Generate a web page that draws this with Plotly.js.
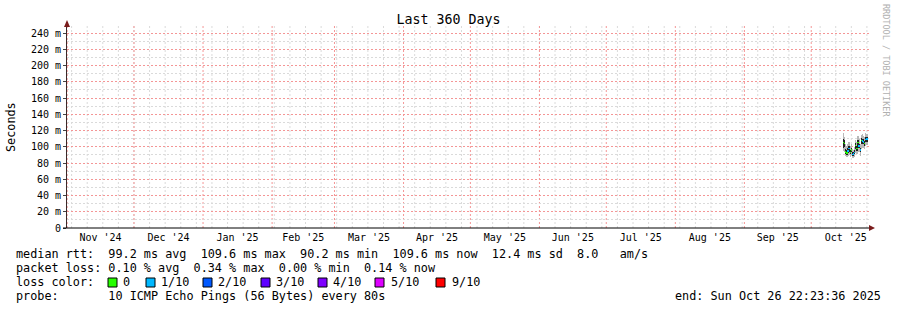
<!DOCTYPE html>
<html><head><meta charset="utf-8">
<script src="https://cdn.plot.ly/plotly-3.0.1.min.js"></script>
<style>html,body{margin:0;padding:0;background:#fff;} #chart{width:897px;height:310px;}</style>
</head><body><div id="chart"></div>
<script>
// ---- data ----
const times = ['2025-10-15 12:00','2025-10-16 00:00','2025-10-16 12:00','2025-10-17 00:00','2025-10-17 12:00','2025-10-18 00:00','2025-10-18 12:00','2025-10-19 00:00','2025-10-19 12:00','2025-10-20 00:00','2025-10-20 12:00','2025-10-21 00:00','2025-10-21 12:00','2025-10-22 00:00','2025-10-22 12:00','2025-10-23 00:00','2025-10-23 12:00','2025-10-24 00:00','2025-10-24 12:00','2025-10-25 00:00','2025-10-25 12:00','2025-10-26 00:00'];
const medianMs = [105, 104, 93.5, 92.5, 95, 98, 93, 96, 90.2, 91, 93, 102, 98, 105, 101, 96, 108, 107, 106, 104, 109, 109.6];
const lossIdx  = [0, 0, 0, 0, 1, 1, 0, 0, 1, 1, 1, 0, 0, 0, 1, 1, 0, 1, 1, 0, 1, 1];
const smokeMinMs = [95, 94, 89, 88, 89, 90, 88, 90, 86, 86, 88, 92, 91, 95, 93, 89, 97, 98, 99, 97, 101, 102];
const smokeMaxMs = [117, 112, 104, 101, 103, 106, 101, 104, 97, 96, 100, 108, 106, 113, 109, 103, 115, 116, 113, 112, 117, 116];
const innerLoMs  = [99, 100, 91, 90, 92, 94, 91, 93, 89, 89, 91, 97, 95, 101, 98, 93, 103, 104, 103, 101, 106, 106];
const innerHiMs  = [110, 108, 97, 96, 98, 101, 96, 99, 93, 93, 96, 105, 101, 108, 104, 99, 111, 110, 109, 107, 112, 112];

const lossLabels = ['0', '1/10', '2/10', '3/10', '4/10', '5/10', '9/10'];
const lossColors = ['#26ff00', '#00b8ff', '#0059ff', '#5e00ff', '#7e00ff', '#dd00ff', '#ff0000'];

const monthLabels = ["Nov '24", "Dec '24", "Jan '25", "Feb '25", "Mar '25", "Apr '25", "May '25", "Jun '25", "Jul '25", "Aug '25", "Sep '25", "Oct '25"];
const yTickVals = [0, 0.02, 0.04, 0.06, 0.08, 0.10, 0.12, 0.14, 0.16, 0.18, 0.20, 0.22, 0.24];
const yTickText = ['0', '20 m', '40 m', '60 m', '80 m', '100 m', '120 m', '140 m', '160 m', '180 m', '200 m', '220 m', '240 m'];
const yMinorVals = [0.01, 0.03, 0.05, 0.07, 0.09, 0.11, 0.13, 0.15, 0.17, 0.19, 0.21, 0.23, 0.25];

const titleText = 'Last 360 Days';
const legendLines = [
  'median rtt:  99.2 ms avg  109.6 ms max  90.2 ms min  109.6 ms now  12.4 ms sd  8.0   am/s',
  'packet loss: 0.10 % avg  0.34 % max  0.00 % min  0.14 % now',
  'loss color:',
  'probe:       10 ICMP Echo Pings (56 Bytes) every 80s'
];
const endText = 'end: Sun Oct 26 22:23:36 2025';
const sideText = 'RRDTOOL / TOBI OETIKER';
const xStart = '2024-10-31 22:23:36', xEnd = '2025-10-26 22:23:36';

// ---- geometry helpers ----
const W = 897, H = 310, PL = 67, PR = 869, PT = 25, PB = 228;
const fx = p => (p - PL) / (PR - PL);
const fy = p => (PB - p) / (PB - PT);
const MONO = 'DejaVu Sans Mono, monospace';
const nb = s => s.replace(/ /g, '\u00a0');
const toS = v => v / 1000;

const monthStarts = [];
for (let i = 0; i <= 12; i++) monthStarts.push(Date.UTC(2024, 10 + i, 1));
const midMonths = [];
for (let i = 0; i < 12; i++) midMonths.push((monthStarts[i] + monthStarts[i + 1]) / 2);
const xs = Date.UTC(2024, 9, 31, 22, 23, 36), xe = Date.UTC(2025, 9, 26, 22, 23, 36);
const weekLines = [];
for (let t = Date.UTC(2024, 10, 3); t < xe; t += 7 * 86400000) weekLines.push(t);

const MINOR = 'rgb(218,218,218)', MAJOR = 'rgb(244,150,150)', DASH = '2px,2px';
const shapes = [];
weekLines.forEach(t => shapes.push({type: 'line', xref: 'x', yref: 'paper', x0: t, x1: t, y0: 0, y1: 1, layer: 'below', line: {color: MINOR, width: 1, dash: DASH}}));
monthStarts.filter(t => t > xs && t < xe).forEach(t => shapes.push({type: 'line', xref: 'x', yref: 'paper', x0: t, x1: t, y0: 0, y1: 1, layer: 'between', line: {color: MAJOR, width: 1, dash: DASH}}));
shapes.push({type: 'line', xref: 'paper', yref: 'paper', x0: fx(63), x1: fx(869), y0: fy(228), y1: fy(228), line: {color: '#000', width: 1}});
shapes.push({type: 'path', xref: 'paper', yref: 'paper', path: `M ${fx(869)} ${fy(225)} L ${fx(875)} ${fy(228)} L ${fx(869)} ${fy(231)} Z`, fillcolor: '#7a1c1c', line: {width: 0}});
shapes.push({type: 'path', xref: 'paper', yref: 'paper', path: `M ${fx(64)} ${fy(27)} L ${fx(67)} ${fy(20)} L ${fx(70)} ${fy(27)} Z`, fillcolor: '#7a1c1c', line: {width: 0}});
const boxX = [108, 146, 203, 261, 318, 375, 436];
const boxTextX = [123, 161, 218, 276, 333, 391, 452];
lossColors.forEach((c, i) => shapes.push({type: 'rect', xref: 'paper', yref: 'paper', x0: fx(boxX[i]), x1: fx(boxX[i] + 9), y0: fy(278), y1: fy(287), fillcolor: c, line: {color: '#000', width: 1}}));

const ann = [];
const legendY = [254, 268, 282, 296];
const baseAnn = {xref: 'paper', yref: 'paper', showarrow: false, borderpad: 0, borderwidth: 0, yanchor: 'middle'};
legendLines.forEach((s, i) => ann.push(Object.assign({}, baseAnn, {x: fx(16), y: fy(legendY[i]), xanchor: 'left', text: nb(s), font: {family: MONO, size: 11.8, color: '#000'}})));
lossLabels.forEach((s, i) => ann.push(Object.assign({}, baseAnn, {x: fx(boxTextX[i]), y: fy(282), xanchor: 'left', text: nb(s), font: {family: MONO, size: 11.8, color: '#000'}})));
ann.push(Object.assign({}, baseAnn, {x: fx(881), y: fy(296), xanchor: 'right', text: nb(endText), font: {family: MONO, size: 11.8, color: '#000'}}));
ann.push(Object.assign({}, baseAnn, {x: fx(11), y: fy(127), xanchor: 'center', textangle: -90, text: 'Seconds', font: {family: MONO, size: 11.8, color: '#000'}}));
ann.push(Object.assign({}, baseAnn, {x: fx(886), y: fy(60), xanchor: 'center', textangle: 90, text: nb(sideText), font: {family: MONO, size: 8.5, color: '#b0b0b0'}}));

const BW = 50000000;
const traces = [
  {type: 'bar', x: times, base: smokeMinMs.map(toS), y: smokeMaxMs.map((v, i) => toS(v - smokeMinMs[i])), width: BW, marker: {color: '#b8b8b8', line: {width: 0}}, hoverinfo: 'skip'},
  {type: 'bar', x: times, base: innerLoMs.map(toS), y: innerHiMs.map((v, i) => toS(v - innerLoMs[i])), width: BW, marker: {color: '#222222', line: {width: 0}}, hoverinfo: 'skip'},
  {type: 'bar', x: times, base: medianMs.map(v => toS(v) - 0.0008), y: medianMs.map(() => 0.0016), width: BW, marker: {color: lossIdx.map(i => lossColors[i]), line: {width: 0}}, hoverinfo: 'skip'}
];

const layout = {
  width: W, height: H, margin: {l: PL, r: W - PR, t: PT, b: H - PB},
  paper_bgcolor: '#fff', plot_bgcolor: '#fff', showlegend: false, barmode: 'overlay', bargap: 0,
  title: {text: titleText, x: 0.5, xref: 'container', xanchor: 'center', y: 1 - 19 / H, yanchor: 'middle', font: {family: MONO, size: 13.3, color: '#000'}},
  xaxis: {type: 'date', range: [xStart, xEnd], tickvals: midMonths, ticktext: monthLabels, ticks: '', ticklabelstandoff: 2, showgrid: false, zeroline: false, showline: false, tickangle: 0, tickfont: {family: MONO, size: 10, color: '#000'}, fixedrange: true},
  yaxis: {range: [0, 0.25], tickvals: yTickVals, ticktext: yTickText, ticks: 'outside', ticklen: 3, tickcolor: '#444', showgrid: true, gridcolor: MAJOR, griddash: DASH, gridwidth: 1,
    minor: {tickmode: 'array', tickvals: yMinorVals, showgrid: true, gridcolor: MINOR, griddash: DASH, ticks: ''},
    showline: true, linecolor: '#3b2a2a', linewidth: 1, zeroline: false, tickfont: {family: MONO, size: 10, color: '#000'}, fixedrange: true},
  shapes: shapes, annotations: ann
};
Plotly.newPlot('chart', traces, layout, {displayModeBar: false, staticPlot: true});
</script></body></html>
